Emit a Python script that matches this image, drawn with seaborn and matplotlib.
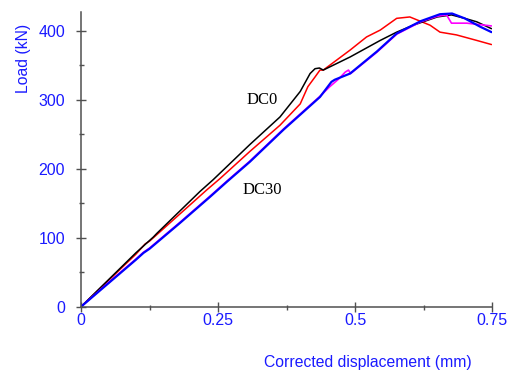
import matplotlib
matplotlib.use("Agg")
import matplotlib.pyplot as plt
from matplotlib.ticker import MultipleLocator
import pandas as pd
import seaborn as sns

# Load–displacement curves, two specimens per series
dc0_a_x = [0, 0.05, 0.10, 0.132, 0.138, 0.217, 0.241, 0.308, 0.363, 0.400, 0.418,
           0.427, 0.435, 0.442, 0.491, 0.546, 0.576, 0.606, 0.650, 0.676, 0.700,
           0.722, 0.749]
dc0_a_y = [0, 39, 78, 101, 106, 167, 184, 235, 275, 312, 338, 345, 346, 343, 362,
           386, 398, 408, 420, 423, 418, 413, 403]

dc0_b_x = [0, 0.05, 0.10, 0.117, 0.125, 0.229, 0.254, 0.308, 0.363, 0.400, 0.414,
           0.427, 0.436, 0.442, 0.491, 0.521, 0.546, 0.576, 0.600, 0.637, 0.655,
           0.685, 0.722, 0.749]
dc0_b_y = [0, 38, 76, 91, 95, 169, 186, 225, 263, 294, 319, 333, 343, 343, 372,
           391, 401, 418, 420, 408, 398, 394, 386, 380]

dc30_a_x = [0, 0.05, 0.10, 0.114, 0.125, 0.18, 0.235, 0.266, 0.308, 0.37, 0.436,
            0.457, 0.463, 0.491, 0.540, 0.576, 0.620, 0.655, 0.677, 0.700, 0.728,
            0.749]
dc30_a_y = [0, 34, 68, 78, 84, 121, 159, 181, 210, 257, 304, 326, 329, 338, 370,
            396, 414, 424, 425, 418, 406, 398]

dc30_b_x = [0, 0.05, 0.10, 0.114, 0.125, 0.18, 0.235, 0.266, 0.308, 0.37, 0.436,
            0.454, 0.470, 0.482, 0.488, 0.492, 0.540, 0.576, 0.620, 0.650, 0.667,
            0.676, 0.704, 0.749]
dc30_b_y = [0, 35, 69, 79, 85, 122, 160, 182, 211, 258, 305, 319, 330, 340, 343,
            338, 369, 395, 413, 421, 423, 411, 411, 407]

x_ticks = [0, 0.25, 0.5, 0.75]
x_tick_labels = ["0", "0.25", "0.5", "0.75"]
y_ticks = [0, 100, 200, 300, 400]

sns.set_style("ticks")
plt.rcParams["font.family"] = ["Liberation Sans", "DejaVu Sans"]

fig = plt.figure(figsize=(5.07, 3.72), dpi=100)
ax = fig.add_axes([0.1598, 0.1755, 0.8107, 0.7919])

series = [
    (dc0_b_x, dc0_b_y, "#ff0000", 1.1),
    (dc0_a_x, dc0_a_y, "#000000", 1.1),
    (dc30_b_x, dc30_b_y, "#ff00ff", 1.2),
    (dc30_a_x, dc30_a_y, "#0000ff", 1.6),
]
for xs, ys, color, lw in series:
    df = pd.DataFrame({"x": xs, "y": ys})
    sns.lineplot(data=df, x="x", y="y", sort=False, estimator=None,
                 color=color, linewidth=lw, ax=ax)

ax.text(0.330, 300, "DC0", family="Liberation Serif", fontsize=12,
        ha="center", va="center", color="black")
ax.text(0.330, 169, "DC30", family="Liberation Serif", fontsize=12,
        ha="center", va="center", color="black")

ax.set_xlim(0, 0.75)
ax.set_ylim(0, 427)
ax.set_xticks(x_ticks)
ax.set_xticklabels(x_tick_labels)
ax.set_yticks(y_ticks)
ax.xaxis.set_minor_locator(MultipleLocator(0.125))
ax.yaxis.set_minor_locator(MultipleLocator(50))

blue = "#1a1aff"
spine_c = "#505050"
for side in ("top", "right"):
    ax.spines[side].set_visible(False)
for side in ("left", "bottom"):
    ax.spines[side].set_color(spine_c)
    ax.spines[side].set_linewidth(1.1)

ax.tick_params(which="major", direction="inout", length=7.2, width=1.0,
               color=spine_c, labelsize=11.5, labelcolor=blue)
ax.tick_params(which="minor", direction="inout", length=3.6, width=1.0,
               color=spine_c)
ax.tick_params(axis="x", which="major", pad=1)
ax.tick_params(axis="y", which="major", pad=8)

ax.set_xlabel("Corrected displacement (mm)", fontsize=11.3, color=blue)
ax.set_ylabel("Load (kN)", fontsize=11.3, color=blue)
ax.xaxis.set_label_coords(0.697, -0.188)
ax.xaxis.label.set_va("center")
ax.yaxis.set_label_coords(-0.14, 0.844)
ax.yaxis.label.set_va("center")

fig.savefig("out.png", dpi=100, facecolor="white")
